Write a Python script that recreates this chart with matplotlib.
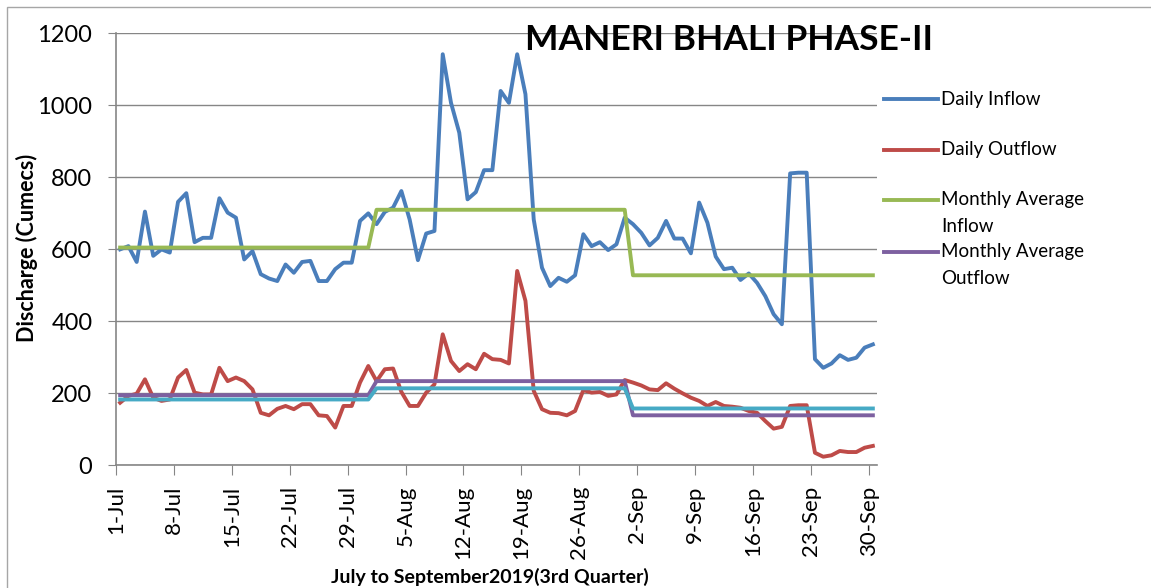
import numpy as np
import pandas as pd
import matplotlib
matplotlib.use("Agg")
import matplotlib.pyplot as plt
import matplotlib.dates as mdates
from matplotlib.lines import Line2D
from matplotlib.patches import Rectangle

plt.rcParams['font.family'] = ['Lato', 'DejaVu Sans']

# daily discharge, 1-Jul to 30-Sep 2019 (cumecs)
dates = pd.date_range('2019-07-01', '2019-09-30', freq='D')

daily_inflow = [
    599, 608, 564, 704, 581, 599, 590, 731, 755, 619, 631, 631, 741, 701, 687, 571,
    594, 530, 518, 511, 557, 534, 564, 567, 511, 511, 544, 562, 562, 678, 699,
    669, 703, 715, 761, 682, 569, 643, 650, 1141, 1006, 923, 738, 758, 819, 819,
    1039, 1006, 1141, 1030, 682, 548, 497, 520, 509, 527, 641, 608, 619, 597, 613,
    687, 669, 645, 610, 631, 678, 629, 629, 588, 729, 673, 579, 544, 548, 514,
    532, 506, 469, 419, 391, 810, 812, 812, 294, 270, 282, 305, 292, 298, 326, 335,
]

daily_outflow = [
    173, 192, 198, 238, 187, 178, 182, 243, 264, 201, 196, 196, 270, 233, 243, 233,
    210, 145, 138, 156, 164, 155, 169, 169, 138, 136, 104, 164, 164, 229, 275,
    233, 266, 268, 203, 164, 164, 201, 224, 363, 289, 261, 280, 266, 309, 294,
    292, 282, 539, 456, 206, 155, 145, 144, 138, 150, 208, 201, 203, 192, 196,
    236, 229, 221, 210, 208, 227, 212, 199, 187, 178, 164, 175, 164, 162, 159,
    150, 145, 122, 101, 106, 164, 166, 166, 34, 23, 27, 39, 36, 36, 48, 53,
]

# monthly averages (Jul, Aug, Sep)
month_days = [31, 31, 30]
avg_inflow = [604, 709, 527]
avg_outflow = [194, 233, 138]
avg_other = [182, 213, 157]

tick_dates = dates[::7]
tick_labels = [f"{d.day}-{d.strftime('%b')}" for d in tick_dates]

legend_labels = ['Daily Inflow', 'Daily Outflow', 'Monthly Average\nInflow', 'Monthly Average\nOutflow']
colors = ['#4A7EBB', '#BE4B48', '#98B954', '#7D60A0', '#46AAC5']

W, H = 1151, 588
fig = plt.figure(figsize=(W / 100, H / 100), dpi=100)
ax = fig.add_axes([116 / W, 1 - 465 / H, (877 - 116) / W, (465 - 33) / H])

x = mdates.date2num(dates)
lw = 2.8
ax.plot(x, daily_inflow, color=colors[0], lw=lw, solid_joinstyle='round', zorder=3)
ax.plot(x, daily_outflow, color=colors[1], lw=lw, solid_joinstyle='round', zorder=3)
ax.plot(x, np.repeat(avg_inflow, month_days), color=colors[2], lw=lw, zorder=3)
ax.plot(x, np.repeat(avg_outflow, month_days), color=colors[3], lw=lw, zorder=3)
ax.plot(x, np.repeat(avg_other, month_days), color=colors[4], lw=lw, zorder=3)

grey = '#868686'
ax.set_xlim(x[0] - 0.5, x[-1] + 0.5)
ax.set_ylim(0, 1200)
ax.set_yticks(range(0, 1201, 200))
ax.yaxis.grid(True, color=grey, lw=1.0)
ax.set_axisbelow(True)

ax.set_xticks(mdates.date2num(tick_dates) - 0.5)
ax.set_xticklabels(tick_labels, rotation=90, fontsize=16)
ax.tick_params(axis='y', labelsize=17, length=6, color=grey, pad=11)
ax.tick_params(axis='x', length=7, color=grey, pad=8)

for s in ['top', 'right']:
    ax.spines[s].set_visible(False)
for s in ['left', 'bottom']:
    ax.spines[s].set_color(grey)
    ax.spines[s].set_linewidth(1.2)

fig.text(27 / W, 1 - 248 / H, 'Discharge (Cumecs)', rotation=90, fontsize=15.5,
         fontweight='bold', ha='center', va='center')
fig.text(490 / W, 1 - 577 / H, 'July to September2019(3rd Quarter)', fontsize=14,
         fontweight='bold', ha='center', va='center')
fig.text(729 / W, 1 - 40 / H, 'MANERI BHALI PHASE-II', fontsize=25.5,
         fontweight='bold', ha='center', va='center')

# legend drawn by hand so the line sits beside the first text line
leg_y = [99, 150, 200, 252]
for lab, col, yy in zip(legend_labels, colors, leg_y):
    fig.add_artist(Line2D([884 / W, 938 / W], [1 - yy / H, 1 - yy / H],
                          color=col, lw=lw, transform=fig.transFigure))
    for k, part in enumerate(lab.split('\n')):
        fig.text(941 / W, 1 - (yy + 26 * k) / H, part, fontsize=13.5,
                 ha='left', va='center')

fig.add_artist(Rectangle((7 / W, -0.1), 1.2, 1 - 7 / H + 0.1, transform=fig.transFigure,
                         fill=False, edgecolor='#A6A6A6', lw=1))

fig.savefig('out.png', dpi=100)
